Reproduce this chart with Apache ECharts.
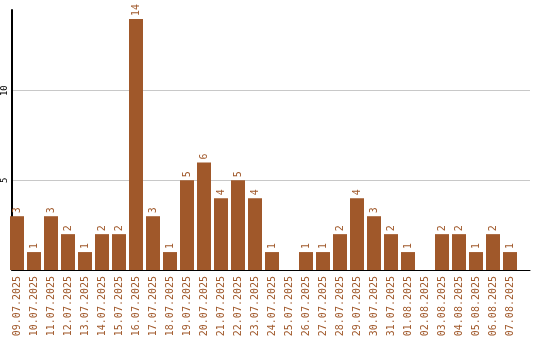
<!DOCTYPE html>
<html>
<head>
<meta charset="utf-8">
<script src="https://cdn.jsdelivr.net/npm/echarts@6/dist/echarts.min.js"></script>
<style>
  html, body { margin: 0; padding: 0; background: #fff; }
  #chart { width: 540px; height: 340px; }
</style>
</head>
<body>
<div id="chart"></div>
<script>
// Data
const dates = [
  '09.07.2025', '10.07.2025', '11.07.2025', '12.07.2025', '13.07.2025',
  '14.07.2025', '15.07.2025', '16.07.2025', '17.07.2025', '18.07.2025',
  '19.07.2025', '20.07.2025', '21.07.2025', '22.07.2025', '23.07.2025',
  '24.07.2025', '25.07.2025', '26.07.2025', '27.07.2025', '28.07.2025',
  '29.07.2025', '30.07.2025', '31.07.2025', '01.08.2025', '02.08.2025',
  '03.08.2025', '04.08.2025', '05.08.2025', '06.08.2025', '07.08.2025'
];
const counts = [3, 1, 3, 2, 1, 2, 2, 14, 3, 1, 5, 6, 4, 5, 4, 1, 0, 1, 1, 2, 4, 3, 2, 1, 0, 2, 2, 1, 2, 1];

const barColor = '#a0582a';
const font = 'DejaVu Sans Mono';

const chart = echarts.init(document.getElementById('chart'));

chart.setOption({
  animation: false,
  grid: [
    // frame: axis lines + gridlines over the full plot width
    { left: 10, right: 10, top: 10, bottom: 70 },
    // bars
    { left: 8.5, width: 510, top: 10, bottom: 70 }
  ],
  xAxis: [
    {
      gridIndex: 0,
      type: 'value',
      min: 0,
      max: 1,
      axisLine: { show: true, onZero: false, lineStyle: { color: '#000', width: 1 } },
      axisTick: { show: false },
      axisLabel: { show: false },
      splitLine: { show: false }
    },
    {
      gridIndex: 1,
      type: 'category',
      data: dates,
      axisLine: { show: false },
      axisTick: { show: false },
      axisLabel: {
        rotate: 90,
        interval: 0,
        margin: 6,
        color: barColor,
        fontFamily: font,
        fontSize: 10
      }
    }
  ],
  yAxis: [
    {
      gridIndex: 0,
      type: 'value',
      min: 0,
      max: 14.5,
      interval: 5,
      axisLine: { show: true, lineStyle: { color: '#000', width: 2 } },
      axisTick: { show: false },
      axisLabel: {
        rotate: 90,
        margin: 3,
        color: '#000',
        fontFamily: font,
        fontSize: 9,
        showMinLabel: false,
        showMaxLabel: false
      },
      splitLine: {
        show: true,
        showMinLine: false,
        showMaxLine: false,
        lineStyle: { color: '#c8c8c8', width: 1 }
      }
    },
    {
      gridIndex: 1,
      type: 'value',
      min: 0,
      max: 14.5,
      show: false
    }
  ],
  series: [{
    type: 'bar',
    xAxisIndex: 1,
    yAxisIndex: 1,
    data: counts,
    barWidth: 14,
    itemStyle: { color: barColor },
    label: {
      show: true,
      position: 'top',
      rotate: 90,
      align: 'left',
      verticalAlign: 'middle',
      distance: 3,
      color: barColor,
      fontFamily: font,
      fontSize: 10,
      formatter: p => (p.value ? String(p.value) : '')
    }
  }]
});
</script>
</body>
</html>
